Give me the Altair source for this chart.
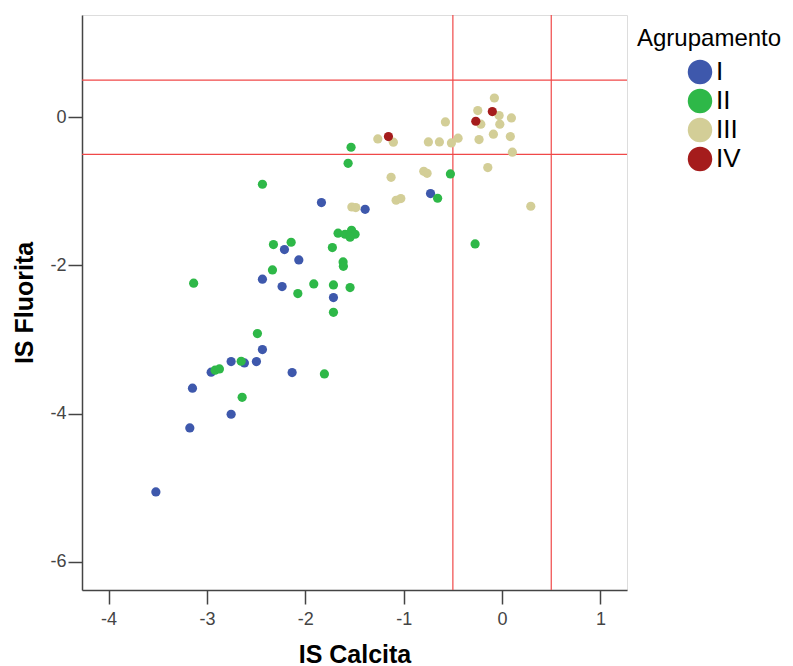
import altair as alt
import pandas as pd

# Group I (blue)
g1_x = [-0.727, -1.392, -1.836, -2.212, -2.066, -2.436, -2.236, -1.714, -2.436, -2.754,
        -2.619, -2.497, -2.957, -2.134, -3.147, -2.754, -3.174, -3.519]
g1_y = [-1.03, -1.242, -1.151, -1.785, -1.926, -2.186, -2.285, -2.433, -3.135, -3.297,
        -3.316, -3.297, -3.441, -3.445, -3.657, -4.008, -4.193, -5.057]
# Group II (green)
g2_x = [-1.535, -1.565, -0.525, -0.655, -0.274, -2.436, -1.667, -1.596, -1.530, -1.494,
        -1.545, -2.324, -2.144, -1.725, -1.616, -1.613, -2.334, -2.076, -1.914, -1.714,
        -1.545, -1.714, -3.135, -2.487, -2.652, -2.917, -2.873, -1.806, -2.642]
g2_y = [-0.405, -0.621, -0.765, -1.093, -1.710, -0.904, -1.565, -1.579, -1.525, -1.579,
        -1.619, -1.718, -1.687, -1.758, -1.953, -2.011, -2.061, -2.379, -2.250, -2.263,
        -2.298, -2.632, -2.240, -2.919, -3.293, -3.414, -3.397, -3.464, -3.779]
# Group III (tan)
g3_x = [-0.078, -0.247, -0.030, 0.095, -0.216, -0.023, -0.576, -1.263, -1.105, -0.749,
        -0.637, -0.515, -0.447, -0.234, -0.088, 0.084, 0.105, -0.145, -1.128, -0.796,
        -0.762, -1.077, -1.029, -1.527, -1.487, 0.292]
g3_y = [0.260, 0.090, 0.023, -0.009, -0.094, -0.094, -0.063, -0.293, -0.337, -0.333,
        -0.333, -0.347, -0.283, -0.301, -0.229, -0.260, -0.472, -0.679, -0.810, -0.729,
        -0.756, -1.120, -1.097, -1.211, -1.219, -1.201]
# Group IV (red)
g4_x = [-1.155, -0.267, -0.099]
g4_y = [-0.260, -0.054, 0.077]

groups = ["I", "II", "III", "IV"]
colors = ["#3E58AC", "#2EB848", "#D3CE97", "#A51C1C"]

vlines = [-0.5, 0.5]
hlines = [-0.5, 0.5]
x_ticks = [-4, -3, -2, -1, 0, 1]
y_ticks = [-6, -4, -2, 0]

rows = []
for g, xs, ys in zip(groups, [g1_x, g2_x, g3_x, g4_x], [g1_y, g2_y, g3_y, g4_y]):
    for a, b in zip(xs, ys):
        rows.append({"x": a, "y": b, "Agrupamento": g})
df = pd.DataFrame(rows)

font = "Liberation Sans"
xscale = alt.Scale(domain=[-4.27, 1.27], nice=False, zero=False)
yscale = alt.Scale(domain=[-6.38, 1.38], nice=False, zero=False)

axis_common = dict(grid=False, tickSize=14, labelFontSize=18, titleFontSize=25,
                   titleFontWeight="bold", labelColor="#444444",
                   titleColor="#000000", domainColor="#444444", tickColor="#444444",
                   domainWidth=1.5, tickWidth=1.5, labelFont=font, titleFont=font,
                   labelExpr="'' + datum.value")

points = alt.Chart(df).mark_circle(size=85, opacity=1).encode(
    x=alt.X("x:Q", scale=xscale, title="IS Calcita",
            axis=alt.Axis(values=x_ticks, labelPadding=6, titlePadding=14, **axis_common)),
    y=alt.Y("y:Q", scale=yscale, title="IS Fluorita",
            axis=alt.Axis(values=y_ticks, labelPadding=2, titlePadding=12, **axis_common)),
    color=alt.Color("Agrupamento:N", scale=alt.Scale(domain=groups, range=colors),
                    legend=alt.Legend(orient="none", legendX=555, legendY=12,
                                      titleFontSize=24, titleFontWeight="normal",
                                      titleFont=font, labelFont=font, labelFontSize=26,
                                      symbolSize=600, symbolType="circle",
                                      symbolOffset=50, labelOffset=3,
                                      rowPadding=3, titlePadding=8,
                                      titleColor="#000000", labelColor="#000000",
                                      symbolStrokeWidth=0)),
)

vdf = pd.DataFrame({"v": vlines})
hdf = pd.DataFrame({"h": hlines})
vrule = alt.Chart(vdf).mark_rule(color="#F04848", strokeWidth=1.2).encode(x=alt.X("v:Q", scale=xscale))
hrule = alt.Chart(hdf).mark_rule(color="#F04848", strokeWidth=1.2).encode(y=alt.Y("h:Q", scale=yscale))

chart = alt.layer(vrule, hrule, points).properties(
    width=545, height=575,
    autosize=alt.AutoSizeParams(type="none"),
    padding={"left": 74, "top": 7, "right": 158, "bottom": 76},
).configure_view(stroke="#444444", strokeWidth=1.5).configure(background="white")

chart.save("out.html", embed_options={"renderer": "svg", "actions": False})
